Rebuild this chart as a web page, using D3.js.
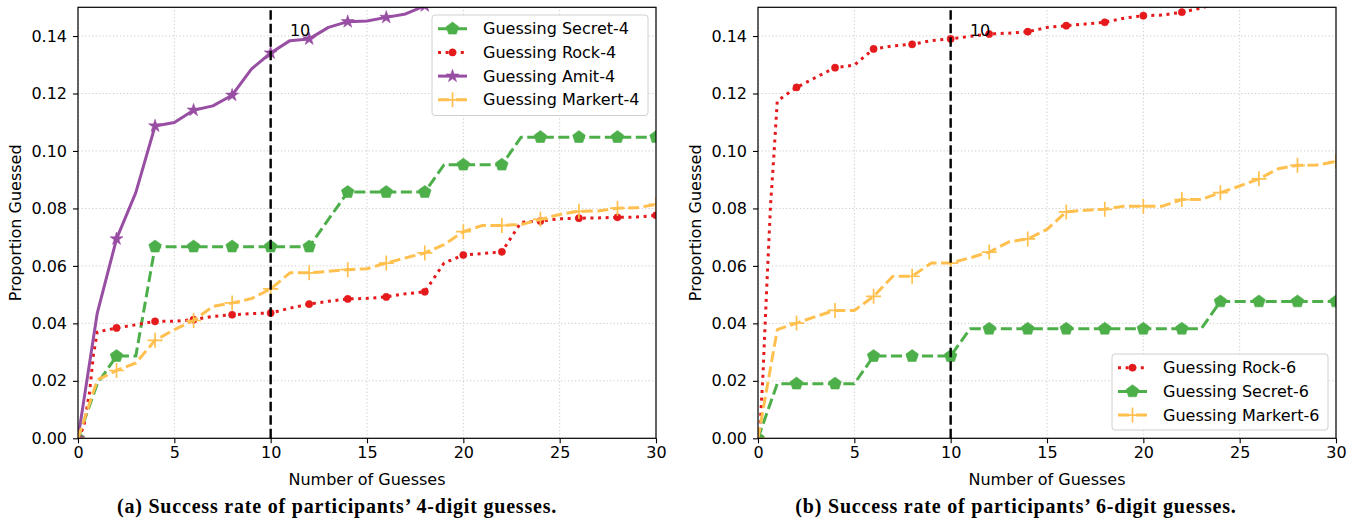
<!DOCTYPE html>
<html><head><meta charset="utf-8">
<script src="https://cdn.jsdelivr.net/npm/d3@7"></script>
<style>body{margin:0;background:#fff} svg{display:block}</style>
</head><body>
<svg id="c" width="1359" height="520"></svg>
<script>
// ---------------- DATA ----------------
const guesses = [0,1,2,3,4,5,6,7,8,9,10,11,12,13,14,15,16,17,18,19,20,21,22,23,24,25,26,27,28,29,30];
const xTicks = [0,5,10,15,20,25,30];
const yTicks = [0,0.02,0.04,0.06,0.08,0.10,0.12,0.14];

// Panel (a): 4-digit
const secret4  = [0,0.019,0.0286,0.0286,0.0667,0.0667,0.0667,0.0667,0.0667,0.0667,0.0667,0.0667,0.0667,0.0762,0.0857,0.0857,0.0857,0.0857,0.0857,0.0952,0.0952,0.0952,0.0952,0.1048,0.1048,0.1048,0.1048,0.1048,0.1048,0.1048,0.1048];
const rock4X   = [0,0.3,0.6,0.8,1,2,3,4,5,6,7,8,9,10,11,12,13,14,15,16,17,18,19,20,21,22,23,24,25,26,27,28,29,30];
const rock4    = [0,0.004,0.016,0.029,0.037,0.0384,0.0395,0.0407,0.0407,0.0413,0.0424,0.043,0.0434,0.0436,0.0453,0.0467,0.0477,0.0485,0.0487,0.0492,0.0503,0.051,0.061,0.0638,0.0643,0.0649,0.0752,0.0756,0.0764,0.0766,0.0767,0.0769,0.077,0.0776];
const amit4    = [0,0.0436,0.0694,0.0855,0.1087,0.1099,0.1142,0.1157,0.1194,0.1285,0.1341,0.1384,0.139,0.143,0.145,0.1452,0.1465,0.1477,0.1505,0.152,0.154,0.155,0.156,0.157,0.158,0.159,0.160,0.161,0.162,0.163,0.164];
const markert4 = [0,0.0203,0.0236,0.0262,0.0341,0.0378,0.041,0.0459,0.0471,0.0486,0.052,0.0576,0.0576,0.0581,0.0587,0.059,0.061,0.0628,0.0645,0.0674,0.0719,0.0741,0.0741,0.0744,0.0762,0.0779,0.079,0.0791,0.0801,0.0802,0.0814];

// Panel (b): 6-digit
const rock6X   = [0,0.1,0.25,0.45,0.65,0.82,1,2,3,4,5,6,7,8,9,10,11,12,13,14,15,16,17,18,19,20,21,22,23,24,25,26,27,28,29,30];
const rock6    = [0,0.003,0.021,0.052,0.081,0.098,0.1174,0.1221,0.1256,0.129,0.1299,0.1355,0.1366,0.1371,0.1384,0.139,0.1399,0.1407,0.141,0.1415,0.143,0.1436,0.1442,0.1448,0.1462,0.1471,0.1473,0.1483,0.1497,0.152,0.153,0.154,0.155,0.156,0.157,0.158];
const secret6  = [0,0.019,0.019,0.019,0.019,0.019,0.0286,0.0286,0.0286,0.0286,0.0286,0.0381,0.0381,0.0381,0.0381,0.0381,0.0381,0.0381,0.0381,0.0381,0.0381,0.0381,0.0381,0.0381,0.0476,0.0476,0.0476,0.0476,0.0476,0.0476,0.0476];
const markert6 = [0,0.0378,0.0401,0.0424,0.0445,0.0445,0.0494,0.0564,0.0564,0.061,0.061,0.0628,0.0648,0.0683,0.0694,0.0727,0.0788,0.0794,0.0797,0.0808,0.0808,0.0808,0.0831,0.0831,0.0855,0.0878,0.0903,0.0938,0.095,0.0951,0.0963];

const seriesA = [
  {name:"Guessing Secret-4",  xs:guesses, ys:secret4,  color:"#4daf4a", dash:"11 4.5", marker:"pentagon"},
  {name:"Guessing Rock-4",    xs:rock4X,  ys:rock4,    color:"#e41a1c", dash:"3 4.6",  marker:"circle"},
  {name:"Guessing Amit-4",    xs:guesses, ys:amit4,    color:"#984ea3", dash:null,     marker:"star"},
  {name:"Guessing Markert-4", xs:guesses, ys:markert4, color:"#ffc04f", dash:"11 4.5", marker:"plus"}
];
const seriesB = [
  {name:"Guessing Rock-6",    xs:rock6X,  ys:rock6,    color:"#e41a1c", dash:"3 4.6",  marker:"circle"},
  {name:"Guessing Secret-6",  xs:guesses, ys:secret6,  color:"#4daf4a", dash:"11 4.5", marker:"pentagon"},
  {name:"Guessing Markert-6", xs:guesses, ys:markert6, color:"#ffc04f", dash:"11 4.5", marker:"plus"}
];
const captionA = "(a) Success rate of participants’ 4-digit guesses.";
const captionB = "(b) Success rate of participants’ 6-digit guesses.";

// ---------------- DRAW ----------------
const svg = d3.select("#c");
const FONT = "'DejaVu Sans', sans-serif";

function markerPath(type){
  const p = d3.path();
  if(type==="pentagon"){
    const r=6.6;
    for(let k=0;k<5;k++){const a=-Math.PI/2+k*2*Math.PI/5; k?p.lineTo(r*Math.cos(a),r*Math.sin(a)):p.moveTo(r*Math.cos(a),r*Math.sin(a));}
    p.closePath();
  } else if(type==="star"){
    const R=6.8, ri=R*0.382;
    for(let k=0;k<10;k++){const a=-Math.PI/2+k*Math.PI/5, rr=k%2?ri:R; k?p.lineTo(rr*Math.cos(a),rr*Math.sin(a)):p.moveTo(rr*Math.cos(a),rr*Math.sin(a));}
    p.closePath();
  } else if(type==="circle"){
    p.arc(0,0,3.6,0,2*Math.PI);
  } else if(type==="plus"){
    const h=7.5; p.moveTo(-h,0); p.lineTo(h,0); p.moveTo(0,-h); p.lineTo(0,h);
  }
  return p.toString();
}
function drawMarker(g, type, color, cx, cy){
  const m = g.append("path").attr("d", markerPath(type)).attr("transform",`translate(${cx},${cy})`);
  if(type==="plus") m.attr("fill","none").attr("stroke",color).attr("stroke-width",1.7);
  else m.attr("fill",color).attr("stroke",color).attr("stroke-width",0.6);
}

function panel(id, x0, x1, series, legendBox, caption, capX){
  const x = d3.scaleLinear().domain([0,30]).range([x0,x1]);
  const y = d3.scaleLinear().domain([0,0.15]).range([438.3,7.3]);
  const g = svg.append("g");
  const clipId = "clip"+id;
  svg.append("clipPath").attr("id",clipId).append("rect")
     .attr("x",x0).attr("y",7.3).attr("width",x1-x0).attr("height",431);

  // grid
  const grid = g.append("g").attr("stroke","#c8c8c8").attr("stroke-width",0.9).attr("stroke-dasharray","1.3 2.2");
  xTicks.forEach(t=>grid.append("line").attr("x1",x(t)).attr("x2",x(t)).attr("y1",y(0)).attr("y2",y(0.15)));
  yTicks.forEach(t=>grid.append("line").attr("x1",x0).attr("x2",x1).attr("y1",y(t)).attr("y2",y(t)));

  // axes
  const ax = g.append("g").attr("transform",`translate(0,${y(0)})`)
    .call(d3.axisBottom(x).tickValues(xTicks).tickFormat(d3.format("d")).tickSize(5).tickSizeOuter(0).tickPadding(3));
  const ay = g.append("g").attr("transform",`translate(${x0},0)`)
    .call(d3.axisLeft(y).tickValues(yTicks).tickFormat(d3.format(".2f")).tickSize(5).tickSizeOuter(0).tickPadding(6));
  [ax,ay].forEach(a=>{
    a.select(".domain").remove();
    a.selectAll("line").attr("stroke","#000").attr("stroke-width",1.1);
    a.selectAll("text").attr("font-family",FONT).attr("font-size",16).attr("fill","#000");
  });

  // series
  const plot = g.append("g").attr("clip-path",`url(#${clipId})`);
  const line = d3.line().x(d=>x(d[0])).y(d=>y(d[1]));
  series.forEach(s=>{
    const pts = s.xs.map((v,i)=>[v,s.ys[i]]);
    const p = plot.append("path").attr("d",line(pts)).attr("fill","none")
      .attr("stroke",s.color).attr("stroke-width",3).attr("stroke-linejoin","round");
    if(s.dash) p.attr("stroke-dasharray",s.dash);
    pts.filter(d=>Number.isInteger(d[0]) && d[0]%2===0).forEach(d=>drawMarker(plot,s.marker,s.color,x(d[0]),y(d[1])));
  });

  // vertical line at 10
  plot.append("line").attr("x1",x(10)).attr("x2",x(10)).attr("y1",y(0)).attr("y2",y(0.15))
    .attr("stroke","#000").attr("stroke-width",2.4).attr("stroke-dasharray","9.5 4");
  g.append("text").attr("x",x(11)).attr("y",y(0.14)).text("10")
    .attr("font-family",FONT).attr("font-size",16).attr("fill","#000");

  // frame
  g.append("rect").attr("x",x0).attr("y",7.3).attr("width",x1-x0).attr("height",431)
    .attr("fill","none").attr("stroke","#000").attr("stroke-width",1.2);

  // labels
  g.append("text").attr("x",(x0+x1)/2).attr("y",485).attr("text-anchor","middle")
    .attr("font-family",FONT).attr("font-size",16).text("Number of Guesses");
  g.append("text").attr("transform",`translate(${x0-62.5},${(y(0)+y(0.15))/2}) rotate(-90)`)
    .attr("text-anchor","middle").attr("dominant-baseline","central")
    .attr("font-family",FONT).attr("font-size",16).text("Proportion Guessed");

  // legend
  const lb = legendBox;
  const lg = g.append("g");
  lg.append("rect").attr("x",lb.x).attr("y",lb.y).attr("width",lb.w).attr("height",lb.h)
    .attr("rx",3).attr("fill","#fff").attr("fill-opacity",0.85).attr("stroke","#d0d0d0").attr("stroke-width",1);
  series.forEach((s,i)=>{
    const cy = lb.y + 13.7 + i*23.7;
    const hx0 = lb.x + 6, hx1 = lb.x + 35;
    const l = lg.append("line").attr("x1",hx0).attr("x2",hx1).attr("y1",cy).attr("y2",cy)
      .attr("stroke",s.color).attr("stroke-width",3);
    if(s.dash) l.attr("stroke-dasharray", s.marker==="circle" ? "3 4.6" : "11 7");
    drawMarker(lg,s.marker,s.color,(hx0+hx1)/2,cy);
    lg.append("text").attr("x",lb.x+51).attr("y",cy).attr("dominant-baseline","central")
      .attr("font-family",FONT).attr("font-size",16).attr("fill","#000").text(s.name);
  });

  // caption
  svg.append("text").attr("x",capX).attr("y",513).attr("text-anchor","middle")
    .attr("font-family","'Liberation Serif', serif").attr("font-weight","bold").attr("font-size",20)
    .attr("letter-spacing",0.8)
    .text(caption);
}

panel("a", 78, 656, seriesA, {x:432,y:15,w:216,h:100.5}, captionA, 337);
panel("b", 758, 1336, seriesB, {x:1112,y:354,w:216,h:76}, captionB, 1016);
</script>
</body></html>
